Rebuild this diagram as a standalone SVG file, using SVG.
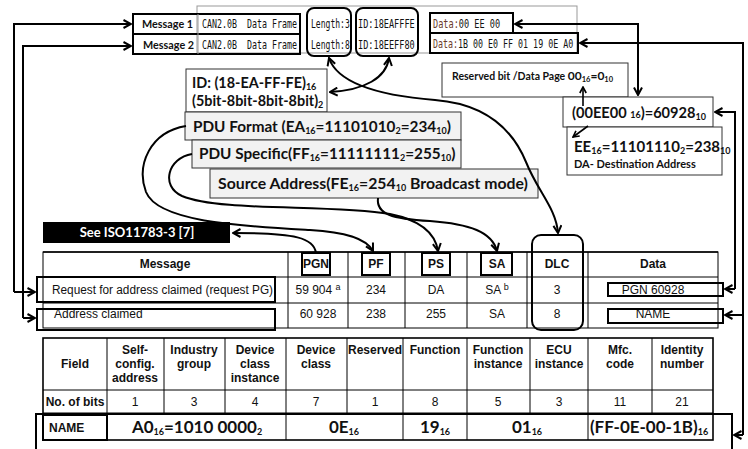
<svg xmlns="http://www.w3.org/2000/svg" width="748" height="449" viewBox="0 0 748 449">
  <style>
    .bx{fill:none;stroke:#000;stroke-width:2}
    .wb{fill:#fff;stroke:#333;stroke-width:1}
    .gb{fill:#f2f2f2;stroke:#333;stroke-width:1}
    .tl{fill:none;stroke:#000;stroke-width:1}
    .tlb{fill:none;stroke:#000;stroke-width:1.6}
    .cn{fill:none;stroke:#000;stroke-width:2}
    .cnt{fill:none;stroke:#000;stroke-width:1.6}
    .cb{font-family:Lato,"Open Sans",sans-serif;font-weight:bold;fill:#111}
    .mono{font-family:"DejaVu Sans Mono","Liberation Mono",monospace;font-size:13px;fill:#111}
    .ar{font-family:"Liberation Sans",Arial,sans-serif;font-size:12px;fill:#111}
    .arb{font-family:"Liberation Sans",Arial,sans-serif;font-size:12px;font-weight:bold;fill:#111}
    .s{font-size:9px}
    .c{text-anchor:middle}
    .lbl{fill:#6b3b2b}
  </style>
  <defs>
    <marker id="ah" viewBox="0 0 10 10" refX="9" refY="5" markerWidth="5" markerHeight="5" orient="auto-start-reverse">
      <path d="M1.5,1 L9,5 L1.5,9" fill="none" stroke="#000" stroke-width="2"/>
    </marker>
  </defs>

  <!-- CAN frame strip -->
  <g id="frame-strip">
    <rect x="197" y="6" width="380" height="47" fill="none" stroke="#999" stroke-width="1"/>
    <rect x="133" y="14" width="167" height="40" class="bx"/>
    <line x1="133" y1="34" x2="300" y2="34" stroke="#000" stroke-width="2"/>
    <line x1="198" y1="14" x2="198" y2="54" stroke="#999" stroke-width="1"/>
    <text x="142" y="28" class="cb" font-size="10.8">Message 1</text>
    <text x="143" y="49" class="cb" font-size="10.8">Message 2</text>
    <text class="mono" transform="translate(202,28) scale(0.64,1)">CAN2.0B&#160; Data Frame</text>
    <text class="mono" transform="translate(202,49) scale(0.64,1)">CAN2.0B&#160; Data Frame</text>
  </g>

  <g id="length-field">
    <rect x="307" y="8" width="44" height="48" rx="7" class="bx"/>
    <text class="mono" font-size="12.5" transform="translate(311,28) scale(0.62,1)">Length:3</text>
    <text class="mono" font-size="12.5" transform="translate(311,49) scale(0.62,1)">Length:8</text>
  </g>

  <g id="id-field">
    <rect x="356" y="8" width="62" height="48" rx="7" class="bx"/>
    <text class="mono" transform="translate(358,28) scale(0.66,1)">ID:18EAFFFE</text>
    <text class="mono" transform="translate(358,49) scale(0.66,1)">ID:18EEFF80</text>
  </g>

  <g id="data-1">
    <rect x="430" y="13" width="83" height="20" class="bx"/>
    <text class="mono" transform="translate(433,28) scale(0.66,1)"><tspan class="lbl">Data:</tspan>00 EE 00</text>
  </g>
  <g id="data-2">
    <rect x="430" y="33" width="148" height="20" class="bx"/>
    <text class="mono" transform="translate(433,48) scale(0.64,1)"><tspan class="lbl">Data:</tspan>1B 00 E0 FF 01 19 0E A0</text>
  </g>

  <!-- identifier breakdown -->
  <g id="id-breakdown">
    <rect x="186" y="69" width="141" height="43" class="wb"/>
    <text x="192" y="88" class="cb" font-size="14.4">ID: (18-EA-FF-FE)<tspan class="s" dy="2">16</tspan></text>
    <text x="192" y="106" class="cb" font-size="14.4">(5bit-8bit-8bit-8bit)<tspan class="s" dy="2">2</tspan></text>
  </g>

  <g id="pdu-format">
    <rect x="185" y="112" width="276" height="28" class="gb"/>
    <text x="193" y="132" class="cb" font-size="15.3">PDU Format (EA<tspan class="s" dy="2">16</tspan><tspan dy="-2">=11101010</tspan><tspan class="s" dy="2">2</tspan><tspan dy="-2">=234</tspan><tspan class="s" dy="2">10</tspan><tspan dy="-2">)</tspan></text>
  </g>

  <g id="pdu-specific">
    <rect x="192" y="140" width="269" height="28" class="gb"/>
    <text x="199" y="159" class="cb" font-size="15.3">PDU Specific(FF<tspan class="s" dy="2">16</tspan><tspan dy="-2">=11111111</tspan><tspan class="s" dy="2">2</tspan><tspan dy="-2">=255</tspan><tspan class="s" dy="2">10</tspan><tspan dy="-2">)</tspan></text>
  </g>

  <g id="source-address">
    <rect x="210" y="169" width="328" height="29" class="gb"/>
    <text x="218" y="189" class="cb" font-size="15.8">Source Address(FE<tspan class="s" dy="2">16</tspan><tspan dy="-2">=254</tspan><tspan class="s" dy="2">10</tspan><tspan dy="-2"> Broadcast mode)</tspan></text>
  </g>

  <g id="reserved-dp">
    <rect x="442" y="63" width="186" height="34" class="wb"/>
    <text x="452" y="80" class="cb" font-size="10.5">Reserved bit /Data Page <tspan font-size="12">00</tspan><tspan font-size="7.5" dy="1.5">16</tspan><tspan font-size="12" dy="-1.5">=0</tspan><tspan font-size="7.5" dy="1.5">10</tspan></text>
  </g>

  <g id="pgn-value">
    <rect x="563" y="97" width="150" height="30" class="wb"/>
    <text x="572" y="118" class="cb" font-size="14.6">(00EE00 <tspan class="s">16</tspan>)=60928<tspan class="s" dy="2">10</tspan></text>
  </g>

  <g id="destination-address">
    <rect x="567" y="127" width="155" height="48" class="wb"/>
    <text x="574" y="152" class="cb" font-size="15">EE<tspan class="s" dy="2">16</tspan><tspan dy="-2">=11101110</tspan><tspan class="s" dy="2">2</tspan><tspan dy="-2">=238</tspan><tspan class="s" dy="2">10</tspan></text>
    <text x="574" y="168" class="cb" font-size="11">DA- Destination Address</text>
  </g>

  <g id="iso-ref">
    <rect x="43" y="222" width="187" height="21" fill="#000"/>
    <text x="137" y="237" class="cb c" font-size="13" style="fill:#fff">See ISO11783-3 [7]</text>
  </g>

  <!-- address claim message table -->
  <g id="message-table">
    <rect x="43" y="252" width="675" height="76" class="tl"/>
    <line x1="43" y1="252" x2="718" y2="252" class="tlb"/>
    <line x1="43" y1="277" x2="718" y2="277" class="tl"/>
    <line x1="43" y1="303" x2="718" y2="303" class="tl"/>
    <line x1="288" y1="252" x2="288" y2="328" class="tl"/>
    <line x1="348" y1="252" x2="348" y2="328" class="tl"/>
    <line x1="405" y1="252" x2="405" y2="328" class="tl"/>
    <line x1="467" y1="252" x2="467" y2="328" class="tl"/>
    <line x1="527" y1="252" x2="527" y2="328" class="tl"/>
    <line x1="588" y1="252" x2="588" y2="328" class="tl"/>
    <text x="165" y="268" class="arb c">Message</text>
    <text x="653" y="268" class="arb c">Data</text>
    <text x="557" y="268" class="arb c">DLC</text>
    <text x="52" y="294" class="ar" textLength="221" lengthAdjust="spacingAndGlyphs">Request for address claimed (request PG)</text>
    <text x="318" y="294" class="ar c">59 904 <tspan font-size="9" dy="-4">a</tspan></text>
    <text x="376" y="294" class="ar c">234</text>
    <text x="436" y="294" class="ar c">DA</text>
    <text x="497" y="294" class="ar c">SA <tspan font-size="9" dy="-4">b</tspan></text>
    <text x="557" y="294" class="ar c">3</text>
    <text x="653" y="294" class="ar c">PGN 60928</text>
    <text x="54" y="318" class="ar">Address claimed</text>
    <text x="318" y="318" class="ar c">60 928</text>
    <text x="376" y="318" class="ar c">238</text>
    <text x="436" y="318" class="ar c">255</text>
    <text x="497" y="318" class="ar c">SA</text>
    <text x="557" y="318" class="ar c">8</text>
    <text x="653" y="318" class="ar c">NAME</text>
  </g>

  <g id="pgn-head"><rect x="302" y="253" width="28" height="22" class="bx"/><text x="316" y="268" class="arb c">PGN</text></g>
  <g id="pf-head"><rect x="362" y="253" width="28" height="22" class="bx"/><text x="376" y="268" class="arb c">PF</text></g>
  <g id="ps-head"><rect x="422" y="253" width="28" height="22" class="bx"/><text x="436" y="268" class="arb c">PS</text></g>
  <g id="sa-head"><rect x="481" y="253" width="31" height="22" class="bx"/><text x="497" y="268" class="arb c">SA</text></g>
  <g id="dlc-col"><rect x="532" y="235" width="51" height="95" rx="9" class="bx"/></g>
  <g id="request-row"><rect x="37" y="277" width="238" height="25" class="bx"/></g>
  <g id="claimed-row"><rect x="37" y="309" width="238" height="21" class="bx"/></g>
  <g id="pgn-data"><rect x="608" y="283" width="115" height="13" class="bx"/></g>
  <g id="name-data"><rect x="608" y="309" width="115" height="14" class="bx"/></g>

  <!-- NAME field layout table -->
  <g id="name-table">
    <rect x="43" y="338" width="670" height="102" class="tlb"/>
    <line x1="43" y1="390" x2="713" y2="390" class="tl"/>
    <line x1="43" y1="413" x2="713" y2="413" class="tl"/>
    <g class="tl">
      <line x1="107" y1="338" x2="107" y2="440"/>
      <line x1="164" y1="338" x2="164" y2="413"/>
      <line x1="225" y1="338" x2="225" y2="413"/>
      <line x1="286" y1="338" x2="286" y2="440"/>
      <line x1="347" y1="338" x2="347" y2="413"/>
      <line x1="403" y1="338" x2="403" y2="440"/>
      <line x1="467" y1="338" x2="467" y2="440"/>
      <line x1="530" y1="338" x2="530" y2="413"/>
      <line x1="588" y1="338" x2="588" y2="440"/>
      <line x1="652" y1="338" x2="652" y2="413"/>
    </g>
    <text x="75" y="368" class="arb c">Field</text>
    <text x="135" y="354" class="arb c">Self-</text>
    <text x="135" y="368" class="arb c">config.</text>
    <text x="135" y="382" class="arb c">address</text>
    <text x="194" y="354" class="arb c">Industry</text>
    <text x="194" y="368" class="arb c">group</text>
    <text x="255" y="354" class="arb c">Device</text>
    <text x="255" y="368" class="arb c">class</text>
    <text x="255" y="382" class="arb c">instance</text>
    <text x="316" y="354" class="arb c">Device</text>
    <text x="316" y="368" class="arb c">class</text>
    <text x="375" y="354" class="arb c">Reserved</text>
    <text x="435" y="354" class="arb c">Function</text>
    <text x="498" y="354" class="arb c">Function</text>
    <text x="498" y="368" class="arb c">instance</text>
    <text x="559" y="354" class="arb c">ECU</text>
    <text x="559" y="368" class="arb c">instance</text>
    <text x="620" y="354" class="arb c">Mfc.</text>
    <text x="620" y="368" class="arb c">code</text>
    <text x="682" y="354" class="arb c">Identity</text>
    <text x="682" y="368" class="arb c">number</text>
    <text x="75" y="406" class="arb c">No. of bits</text>
    <text x="135" y="406" class="ar c">1</text>
    <text x="194" y="406" class="ar c">3</text>
    <text x="255" y="406" class="ar c">4</text>
    <text x="316" y="406" class="ar c">7</text>
    <text x="375" y="406" class="ar c">1</text>
    <text x="435" y="406" class="ar c">8</text>
    <text x="498" y="406" class="ar c">5</text>
    <text x="559" y="406" class="ar c">3</text>
    <text x="620" y="406" class="ar c">11</text>
    <text x="682" y="406" class="ar c">21</text>
    <text x="197" y="433" class="cb c" font-size="17">A0<tspan class="s" dy="2">16</tspan><tspan dy="-2">=1010 0000</tspan><tspan class="s" dy="2">2</tspan></text>
    <text x="344" y="433" class="cb c" font-size="17">0E<tspan class="s" dy="2">16</tspan></text>
    <text x="435" y="433" class="cb c" font-size="17">19<tspan class="s" dy="2">16</tspan></text>
    <text x="527" y="433" class="cb c" font-size="17">01<tspan class="s" dy="2">16</tspan></text>
    <text x="649" y="433" class="cb c" font-size="17">(FF-0E-00-1B)<tspan class="s" dy="2">16</tspan></text>
  </g>
  <g id="name-label">
    <rect x="43" y="415" width="64" height="25" class="bx"/>
    <text x="49" y="432" class="arb" font-size="11">NAME</text>
  </g>
  <g id="name-row">
    <path d="M36,449 V414 H732 V449" class="bx"/>
  </g>

  <!-- connectors -->
  <g id="connectors">
    <polyline points="14,292 14,24 131,24" class="cn" marker-end="url(#ah)"/>
    <polyline points="14,292 35,292" class="cn" marker-end="url(#ah)"/>
    <polyline points="23,318 23,46 131,46" class="cn" marker-end="url(#ah)"/>
    <polyline points="23,318 35,318" class="cn" marker-end="url(#ah)"/>

    <polyline points="638,95 638,24 515,24" class="cn" marker-start="url(#ah)" marker-end="url(#ah)"/>
    <polyline points="735,289 735,112 715,112" class="cn" marker-end="url(#ah)"/>
    <polyline points="735,289 725,289" class="cn" marker-end="url(#ah)"/>
    <polyline points="743,435 743,43 580,43" class="cn" marker-end="url(#ah)"/>
    <polyline points="743,315 725,315" class="cn" marker-end="url(#ah)"/>
    <polyline points="743,435 734,435" class="cn" marker-end="url(#ah)"/>

    <path d="M329,58 C338,85 385,96 435,100 C485,104 512,128 526,162 C538,192 556,208 558,233" class="cn" marker-start="url(#ah)" marker-end="url(#ah)"/>
    <path d="M389,58 C386,78 365,90 330,92" class="cn" marker-start="url(#ah)" marker-end="url(#ah)"/>

    <line x1="583" y1="106" x2="583" y2="87" class="cnt" marker-end="url(#ah)"/>
    <line x1="588" y1="126" x2="573" y2="137" class="cnt" marker-end="url(#ah)"/>

    <path d="M186,126 C150,132 136,165 146,192 C158,222 240,226 310,230 C345,232 366,238 373,251" class="cn" marker-end="url(#ah)"/>
    <path d="M192,154 C168,158 160,186 182,196 C220,212 330,204 390,214 C420,220 435,232 438,251" class="cn" marker-end="url(#ah)"/>
    <path d="M378,198 C376,214 392,219 430,221 C470,224 492,232 497,251" class="cn" marker-end="url(#ah)"/>
    <path d="M316,253 C314,238 296,233 233,233" class="cn" marker-end="url(#ah)"/>
  </g>
</svg>
